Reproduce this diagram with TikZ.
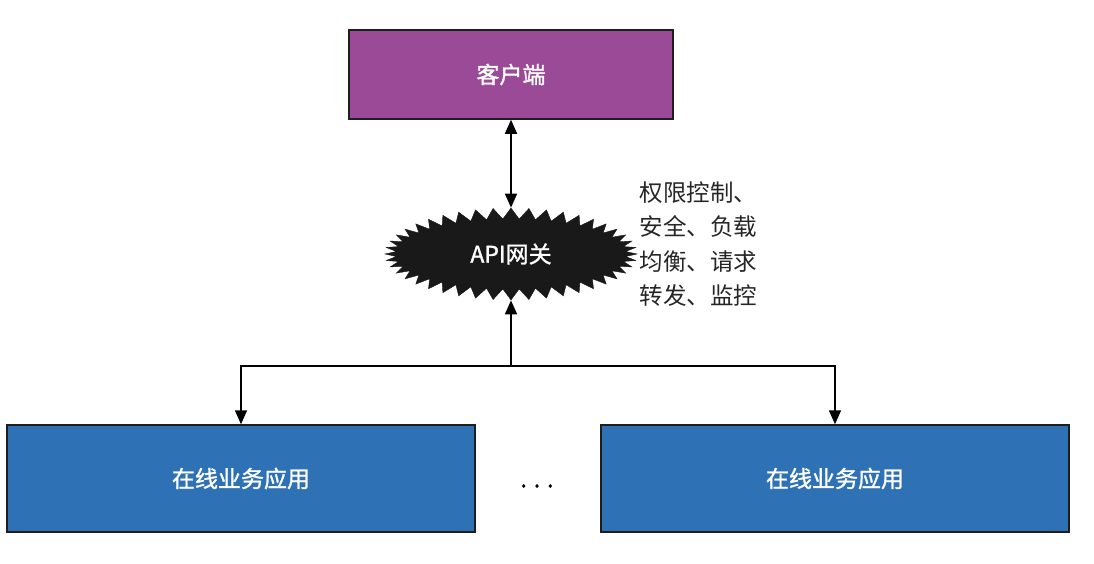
\documentclass[tikz,border=0pt]{standalone}
\usepackage{fontspec}
\setmainfont{Noto Sans CJK SC}
\newfontfamily\boxfont[FakeBold=1.3]{Noto Sans CJK SC}
\usetikzlibrary{shapes.symbols,arrows.meta}
\definecolor{clientpurple}{HTML}{9A4A96}
\definecolor{appblue}{HTML}{2E72B5}
\definecolor{edge}{HTML}{1E1E1E}
\tikzset{
  boxstyle/.style={draw=edge, line width=1.5pt, text=white, font=\boxfont\fontsize{23}{26}\selectfont},
  conn/.style={line width=1.6pt, draw=black},
  tip/.style={-{Triangle[length=14pt,width=12pt]}},
}
\begin{document}
\begin{tikzpicture}[x=1pt,y=-1pt]
\useasboundingbox (0,0) rectangle (1094,563);
\node[boxstyle, fill=clientpurple, minimum width=324pt, minimum height=89pt] (client) at (511,74.5) {客户端};
\node[starburst, starburst points=44, starburst point height=11pt, random starburst=0,
      fill=black!90, draw=black!90,
      minimum width=252pt, minimum height=92pt, inner sep=0pt, text=white,
      font=\boxfont\fontsize{23}{26}\selectfont] (gw) at (511,254) {API网关};
\node[boxstyle, fill=appblue, minimum width=468pt, minimum height=107pt] (app1) at (241,478.5) {在线业务应用};
\node[boxstyle, fill=appblue, minimum width=468pt, minimum height=107pt] (app2) at (835,478.5) {在线业务应用};
\node[font=\boxfont\fontsize{23}{26}\selectfont] (dots) at (537,486) {. . .};
\node[anchor=west, align=left, font=\fontsize{23.5}{34.5}\selectfont, text=black!85] (note) at (636,244) {权限控制、\\安全、负载\\均衡、请求\\转发、监控};
\coordinate (jn) at (511,366);
\draw[conn, {Triangle[length=14pt,width=12pt]}-{Triangle[length=14pt,width=12pt]}] (client.south) -- (gw.north);
\draw[conn, tip] (jn) -- (gw.south);
\draw[conn, tip] (jn) -| (app1.north);
\draw[conn, tip] (jn) -| (app2.north);
\end{tikzpicture}
\end{document}
